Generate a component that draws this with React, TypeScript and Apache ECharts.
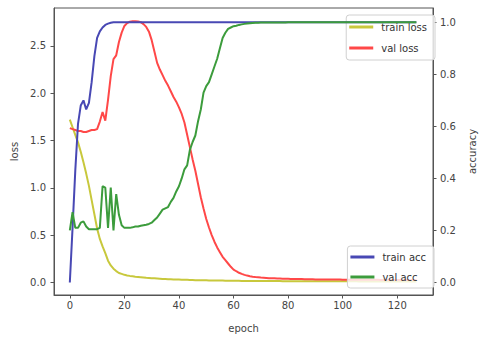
import React, { useEffect, useRef } from 'react';
import * as echarts from 'echarts';

const xTicks = [0, 20, 40, 60, 80, 100, 120];
const lossTicks = [0, 0.5, 1.0, 1.5, 2.0, 2.5];
const accTicks = [0, 0.2, 0.4, 0.6, 0.8, 1.0];

const trainLoss = [
  1.72, 1.64, 1.56, 1.48, 1.38, 1.27, 1.15, 1.02, 0.87, 0.72,
  0.57, 0.46, 0.38, 0.31, 0.23, 0.18, 0.145, 0.12, 0.10, 0.09,
  0.08, 0.074, 0.069, 0.065, 0.061, 0.058, 0.055, 0.052, 0.049, 0.047,
  0.045, 0.043, 0.041, 0.039, 0.037, 0.036, 0.034, 0.033, 0.032, 0.031,
  0.030, 0.029, 0.028, 0.027, 0.026, 0.025, 0.024, 0.024, 0.023, 0.022,
  0.022, 0.021, 0.021, 0.020, 0.020, 0.019, 0.019, 0.018, 0.018, 0.018,
  0.017, 0.017, 0.017, 0.016, 0.016, 0.016, 0.016, 0.015, 0.015, 0.015,
  0.015, 0.015, 0.014, 0.014, 0.014, 0.014, 0.014, 0.014, 0.013, 0.013,
  0.013, 0.013, 0.013, 0.013, 0.013, 0.012, 0.012, 0.012, 0.012, 0.012,
  0.012, 0.012, 0.012, 0.012, 0.011, 0.011, 0.011, 0.011, 0.011, 0.011,
  0.011, 0.011, 0.011, 0.011, 0.011, 0.011, 0.010, 0.010, 0.010, 0.010,
  0.010, 0.010, 0.010, 0.010, 0.010, 0.010, 0.010, 0.010, 0.010, 0.010,
  0.010, 0.010, 0.010, 0.010, 0.010, 0.010, 0.010, 0.010,
];

const valLoss = [
  1.63, 1.62, 1.61, 1.60, 1.60, 1.59, 1.59, 1.60, 1.61, 1.61,
  1.62, 1.70, 1.80, 1.71, 1.93, 2.18, 2.36, 2.40, 2.54, 2.64,
  2.71, 2.74, 2.755, 2.76, 2.76, 2.758, 2.75, 2.73, 2.70, 2.65,
  2.56, 2.44, 2.32, 2.25, 2.19, 2.13, 2.08, 2.02, 1.96, 1.91,
  1.85, 1.78, 1.69, 1.56, 1.43, 1.30, 1.18, 1.04, 0.90, 0.78,
  0.67, 0.58, 0.50, 0.43, 0.37, 0.32, 0.27, 0.235, 0.20, 0.165,
  0.135, 0.118, 0.102, 0.09, 0.08, 0.072, 0.066, 0.061, 0.057, 0.054,
  0.051, 0.049, 0.047, 0.045, 0.044, 0.043, 0.042, 0.041, 0.040, 0.039,
  0.038, 0.037, 0.036, 0.036, 0.035, 0.035, 0.034, 0.034, 0.033, 0.033,
  0.032, 0.032, 0.032, 0.031, 0.031, 0.031, 0.030, 0.030, 0.030, 0.030,
  0.029, 0.029, 0.029, 0.029, 0.028, 0.028, 0.028, 0.028, 0.028, 0.027,
  0.027, 0.027, 0.027, 0.027, 0.026, 0.026, 0.026, 0.026, 0.026, 0.026,
  0.025, 0.025, 0.025, 0.025, 0.025, 0.025, 0.025, 0.025,
];

const trainAcc = [
  0.0, 0.21, 0.43, 0.61, 0.68, 0.70, 0.665, 0.69, 0.77, 0.87,
  0.94, 0.965, 0.98, 0.99, 0.995, 0.998, 1.0, 1.0, 1.0, 1.0,
  1.0, 1.0, 1.0, 1.0, 1.0, 1.0, 1.0, 1.0, 1.0, 1.0,
  1.0, 1.0, 1.0, 1.0, 1.0, 1.0, 1.0, 1.0, 1.0, 1.0,
  1.0, 1.0, 1.0, 1.0, 1.0, 1.0, 1.0, 1.0, 1.0, 1.0,
  1.0, 1.0, 1.0, 1.0, 1.0, 1.0, 1.0, 1.0, 1.0, 1.0,
  1.0, 1.0, 1.0, 1.0, 1.0, 1.0, 1.0, 1.0, 1.0, 1.0,
  1.0, 1.0, 1.0, 1.0, 1.0, 1.0, 1.0, 1.0, 1.0, 1.0,
  1.0, 1.0, 1.0, 1.0, 1.0, 1.0, 1.0, 1.0, 1.0, 1.0,
  1.0, 1.0, 1.0, 1.0, 1.0, 1.0, 1.0, 1.0, 1.0, 1.0,
  1.0, 1.0, 1.0, 1.0, 1.0, 1.0, 1.0, 1.0, 1.0, 1.0,
  1.0, 1.0, 1.0, 1.0, 1.0, 1.0, 1.0, 1.0, 1.0, 1.0,
  1.0, 1.0, 1.0, 1.0, 1.0, 1.0, 1.0, 1.0,
];

const valAcc = [
  0.20, 0.27, 0.21, 0.21, 0.23, 0.235, 0.215, 0.205, 0.205, 0.205,
  0.205, 0.21, 0.37, 0.365, 0.21, 0.365, 0.20, 0.34, 0.26, 0.22,
  0.21, 0.21, 0.21, 0.212, 0.215, 0.215, 0.218, 0.22, 0.222, 0.225,
  0.23, 0.24, 0.25, 0.265, 0.28, 0.285, 0.29, 0.31, 0.325, 0.35,
  0.37, 0.40, 0.435, 0.45, 0.51, 0.54, 0.565, 0.62, 0.665, 0.73,
  0.755, 0.77, 0.80, 0.83, 0.86, 0.90, 0.94, 0.96, 0.975, 0.98,
  0.985, 0.987, 0.99, 0.992, 0.994, 0.995, 0.996, 0.997, 0.998, 0.998,
  0.999, 0.999, 0.999, 0.999, 0.999, 0.999, 0.999, 0.999, 0.999, 0.999,
  1.0, 1.0, 1.0, 1.0, 1.0, 1.0, 1.0, 1.0, 1.0, 1.0,
  1.0, 1.0, 1.0, 1.0, 1.0, 1.0, 1.0, 1.0, 1.0, 1.0,
  1.0, 1.0, 1.0, 1.0, 1.0, 1.0, 1.0, 1.0, 1.0, 1.0,
  1.0, 1.0, 1.0, 1.0, 1.0, 1.0, 1.0, 1.0, 1.0, 1.0,
  1.0, 1.0, 1.0, 1.0, 1.0, 1.0, 1.0, 1.0,
];

const FONT = 'DejaVu Sans';
const TXT = '#444';
const FRAME = '#555';

const COLORS = {
  trainLoss: '#c8c83c',
  valLoss: '#ff4848',
  trainAcc: '#4848b4',
  valAcc: '#3c9c3c',
};

function pairs(arr: number[]) {
  return arr.map((v, i) => [i, v]);
}

export default function App() {
  const ref = useRef<HTMLDivElement>(null);
  useEffect(() => {
    if (!ref.current) return;
    const chart = echarts.init(ref.current, undefined, { renderer: 'svg' });
    const tick = { show: true, inside: false, length: 3.5, lineStyle: { color: FRAME, width: 1 } };
    const axisLine = { show: true, onZero: false, lineStyle: { color: FRAME, width: 1 } };
    const label = { color: TXT, fontSize: 10, fontFamily: FONT };
    const nameStyle = { color: TXT, fontSize: 10, fontFamily: FONT };
    const legendBase = {
      orient: 'vertical',
      itemWidth: 24,
      itemHeight: 3,
      icon: 'rect',
      backgroundColor: 'rgba(255,255,255,0.8)',
      borderColor: '#d0d0d0',
      borderWidth: 1,
      borderRadius: 3,
      textStyle: { fontSize: 10, color: '#333', fontFamily: FONT, lineHeight: 14, padding: [0, 0, 0, 3] },
    };
    const lineSeries = (name: string, data: number[], color: string, yAxisIndex: number) => ({
      name,
      type: 'line',
      data: pairs(data),
      yAxisIndex,
      showSymbol: false,
      symbol: 'none',
      lineStyle: { color, width: 2 },
      itemStyle: { color },
      z: 2,
    });
    chart.setOption({
      animation: false,
      backgroundColor: '#ffffff',
      grid: {
        left: 54,
        right: 46,
        top: 8,
        bottom: 46,
        show: true,
        borderColor: FRAME,
        borderWidth: 1,
        backgroundColor: 'transparent',
      },
      xAxis: {
        type: 'value',
        position: 'bottom',
        min: -5.8,
        max: 133.1,
        name: 'epoch',
        nameLocation: 'middle',
        nameGap: 28,
        nameTextStyle: nameStyle,
        axisLine,
        splitLine: { show: false },
        axisTick: { ...tick, customValues: xTicks },
        axisLabel: { ...label, margin: 5, customValues: xTicks, formatter: (v: number) => String(v) },
      },
      yAxis: [
        {
          type: 'value',
          position: 'left',
          min: -0.133,
          max: 2.9,
          name: 'loss',
          nameLocation: 'middle',
          nameGap: 30,
          nameRotate: 90,
          nameTextStyle: nameStyle,
          axisLine,
          splitLine: { show: false },
          axisTick: { ...tick, customValues: lossTicks },
          axisLabel: { ...label, margin: 8, customValues: lossTicks, formatter: (v: number) => v.toFixed(1) },
        },
        {
          type: 'value',
          position: 'right',
          min: -0.048,
          max: 1.055,
          name: 'accuracy',
          nameLocation: 'middle',
          nameGap: 34,
          nameRotate: 90,
          nameTextStyle: nameStyle,
          axisLine,
          splitLine: { show: false },
          axisTick: { ...tick, customValues: accTicks },
          axisLabel: { ...label, margin: 7, customValues: accTicks, formatter: (v: number) => v.toFixed(1) },
        },
      ],
      legend: [
        {
          ...legendBase,
          data: ['train loss', 'val loss'],
          right: 50,
          top: 15,
          itemGap: 7,
          padding: [5, 8, 5, 3],
          z: 1,
        },
        {
          ...legendBase,
          data: ['train acc', 'val acc'],
          right: 51,
          bottom: 53,
          itemGap: 6,
          padding: [4, 8, 4, 3],
          z: 5,
        },
      ],
      series: [
        lineSeries('train loss', trainLoss, COLORS.trainLoss, 0),
        lineSeries('val loss', valLoss, COLORS.valLoss, 0),
        lineSeries('train acc', trainAcc, COLORS.trainAcc, 1),
        lineSeries('val acc', valAcc, COLORS.valAcc, 1),
      ],
    });
    return () => chart.dispose();
  }, []);
  return (
    <div
      ref={ref}
      style={{ position: 'fixed', left: 0, top: 0, width: 485, height: 341, background: '#fff' }}
    />
  );
}
